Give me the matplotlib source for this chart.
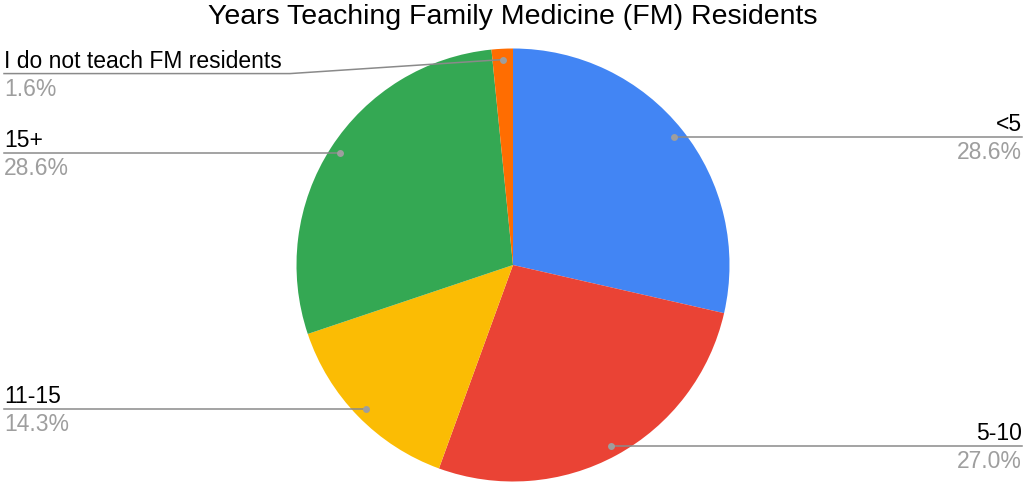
import numpy as np
import matplotlib
matplotlib.use('Agg')
import matplotlib.pyplot as plt

plt.rcParams['font.family'] = ['Liberation Sans', 'DejaVu Sans']

# responses (out of 63)
labels = ['<5', '5-10', '11-15', '15+', 'I do not teach FM residents']
counts = [18, 17, 9, 18, 1]
colors = ['#4285F4', '#EA4335', '#FBBC04', '#34A853', '#FF6D01']
title = 'Years Teaching Family Medicine (FM) Residents'

W, H = 1024, 482
fig = plt.figure(figsize=(W / 100, H / 100), dpi=100)
ax = fig.add_axes([0, 0, 1, 1])

cx, cy, r = 513, H - 265, 216.5
wedges, _ = ax.pie(counts, colors=colors, startangle=90, counterclock=False,
                   center=(cx, cy), radius=r, frame=True,
                   wedgeprops=dict(linewidth=0))

ax.set_xlim(0, W)
ax.set_ylim(0, H)
ax.set_aspect('equal')
ax.axis('off')

total = sum(counts)
grey = '#9e9e9e'
line_c = '#8a8a8a'
fs = 16.5
# the small slice label gets pushed below the title
label_shift = {'I do not teach FM residents': -14}

for w, lab, n in zip(wedges, labels, counts):
    mid = np.deg2rad((w.theta1 + w.theta2) / 2)
    dx, dy = cx + 0.95 * r * np.cos(mid), cy + 0.95 * r * np.sin(mid)
    ly = dy + label_shift.get(lab, 0)
    pct = f'{n / total * 100:.1f}%'
    if np.cos(mid) >= 0 and lab not in label_shift:
        ax.plot([dx, 1022], [ly, ly], color=line_c, lw=1.1, zorder=3)
        ax.text(1022, ly + 6, lab, ha='right', va='baseline', fontsize=fs, color='#000000')
        ax.text(1022, ly - 4, pct, ha='right', va='top', fontsize=fs, color=grey)
    else:
        elbow = 290 if lab in label_shift else dx
        ax.plot([4, elbow, dx], [ly, ly, dy], color=line_c, lw=1.1, zorder=3)
        ax.text(4, ly + 6, lab, ha='left', va='baseline', fontsize=fs, color='#000000')
        ax.text(4, ly - 4, pct, ha='left', va='top', fontsize=fs, color=grey)
    ax.plot(dx, dy, 'o', ms=5, color=grey, mec='none', zorder=4)

fig.text(cx / W, 1 - 17 / H, title, ha='center', va='center', fontsize=20.5, color='#000000')

fig.savefig('out.png', dpi=100)
